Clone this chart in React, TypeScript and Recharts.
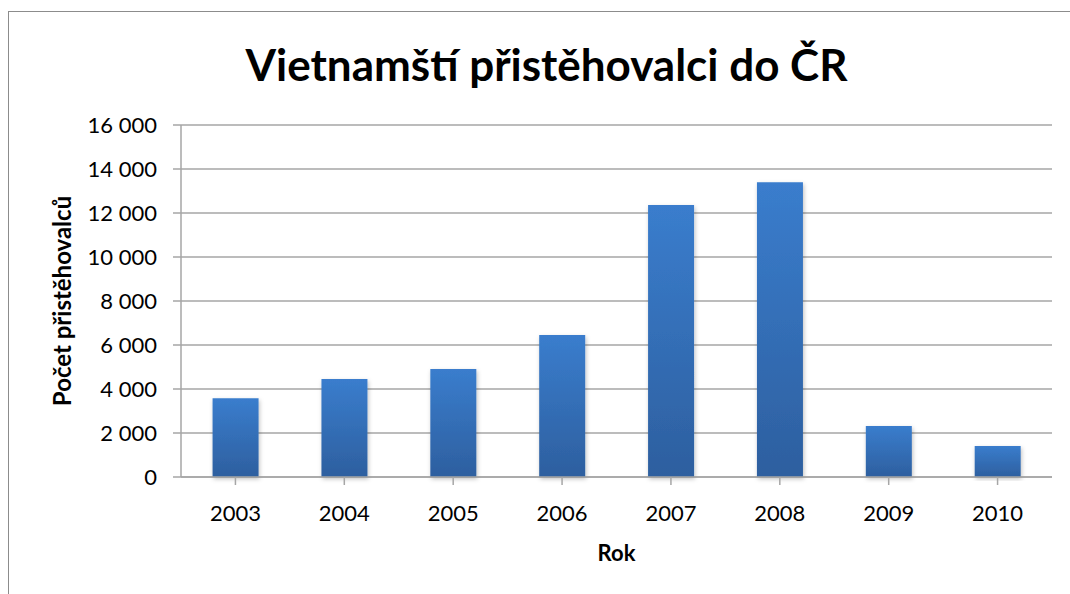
import React from 'react';
import { Bar, BarChart, CartesianGrid, XAxis, YAxis } from 'recharts';

const years = ['2003', '2004', '2005', '2006', '2007', '2008', '2009', '2010'];
const immigrants = [3580, 4450, 4910, 6450, 12360, 13400, 2320, 1410];
const yTicks = [0, 2000, 4000, 6000, 8000, 10000, 12000, 14000, 16000];

const data = years.map((year, i) => ({ year, value: immigrants[i] }));

const FONT = 'Lato, "Open Sans", sans-serif';
const GRID = '#a6a6a6';

const formatThousands = (v: number) => String(v).replace(/\B(?=(\d{3})+(?!\d))/g, ' ');

export default function App() {
  return (
    <div
      style={{
        position: 'absolute',
        left: 8,
        top: 11,
        width: 1061,
        height: 582,
        overflow: 'hidden',
        borderLeft: '1px solid #8c8c8c',
        borderTop: '1px solid #8c8c8c',
        background: '#fff',
        fontFamily: FONT
      }}
    >
      <div
        style={{
          position: 'absolute',
          top: 30,
          left: 0,
          width: 1075,
          textAlign: 'center',
          fontSize: 44,
          fontWeight: 700,
          color: '#000',
          lineHeight: '44px'
        }}
      >
        Vietnamští přistěhovalci do ČR
      </div>
      <BarChart
        width={1053}
        height={590}
        data={data}
        margin={{ top: 113, right: 10, left: 0, bottom: 41 }}
        barCategoryGap='29%'
      >
        <defs>
          <linearGradient id='barFill' x1='0' y1='0' x2='0' y2='1'>
            <stop offset='0%' stopColor='#3a7dcd' />
            <stop offset='100%' stopColor='#2d5f9f' />
          </linearGradient>
          <filter id='barShadow' x='-20%' y='-5%' width='140%' height='115%'>
            <feDropShadow dx='1' dy='2' stdDeviation='2' floodColor='#000' floodOpacity='0.25' />
          </filter>
        </defs>
        <CartesianGrid horizontal vertical={false} stroke={GRID} strokeWidth={1.5} />
        <XAxis
          dataKey='year'
          stroke={GRID}
          strokeWidth={1.5}
          tickSize={8}
          tickMargin={20}
          height={84}
          tick={{ fill: '#000', fontSize: 22, fontFamily: FONT }}
          label={{
            value: 'Rok',
            position: 'insideBottom',
            offset: 0,
            fill: '#000',
            fontSize: 22,
            fontWeight: 700,
            fontFamily: FONT
          }}
        />
        <YAxis
          width={172}
          domain={[0, 16000]}
          ticks={yTicks}
          interval={0}
          tickFormatter={formatThousands}
          stroke={GRID}
          strokeWidth={1.5}
          tickSize={8}
          tickMargin={16}
          tick={{ fill: '#000', fontSize: 22, fontFamily: FONT }}
          label={{
            value: 'Počet přistěhovalců',
            angle: -90,
            position: 'center',
            dx: -33,
            fill: '#000',
            fontSize: 24,
            fontWeight: 700,
            fontFamily: FONT
          }}
        />
        <Bar
          dataKey='value'
          fill='url(#barFill)'
          filter='url(#barShadow)'
          isAnimationActive={false}
        />
      </BarChart>
    </div>
  );
}
